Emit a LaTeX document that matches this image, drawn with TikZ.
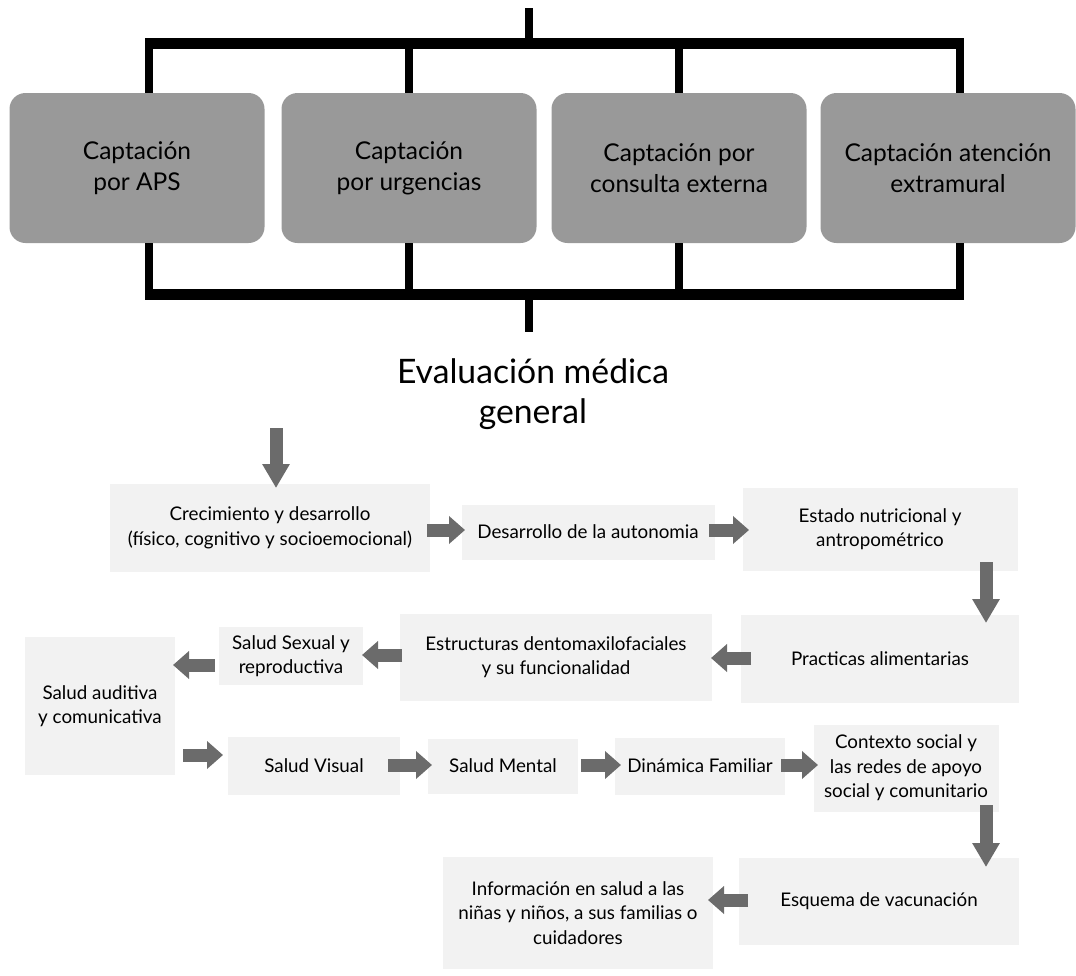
\documentclass[tikz,border=0pt]{standalone}
\usepackage{fontspec}
\setmainfont{Lato}
\usetikzlibrary{arrows.meta}
\begin{document}
\begin{tikzpicture}[x=1pt,y=-1pt,
  hbar/.style={line width=11pt, draw=black},
  vbar/.style={line width=8pt, draw=black},
  capbox/.style={fill=black!40, rounded corners=16pt, minimum width=255pt, minimum height=150pt, align=center, font=\fontsize{24.5}{31}\selectfont, inner sep=0pt},
  stepnode/.style={fill=black!5, align=center, font=\fontsize{18.8}{24.5}\selectfont, inner sep=0pt},
  blk/.style={line width=13pt, draw=black!58, -{Triangle[width=27pt,length=16pt]}},
  blkv/.style={line width=13pt, draw=black!58, -{Triangle[width=26pt,length=24pt]}}
]
\useasboundingbox (0,0) rectangle (1076,975);

% top boxes
\node[capbox] (b1) at (137,168) {Captación\\por APS};
\node[capbox] (b2) at (409,168) {Captación\\por urgencias};
\node[capbox] (b3) at (679,168) {Captación por\\consulta externa};
\node[capbox] (b4) at (948,168) {Captación atención\\extramural};

% bracket coordinates
\coordinate (tin) at (529,8);
\coordinate (t1) at (149,43);
\coordinate (t2) at (409,43);
\coordinate (t3) at (679,43);
\coordinate (t4) at (960,43);
\coordinate (tl) at (145,43);
\coordinate (tr) at (964,43);
\coordinate (u1) at (149,294);
\coordinate (u2) at (409,294);
\coordinate (u3) at (679,294);
\coordinate (u4) at (960,294);
\coordinate (ul) at (145,294);
\coordinate (ur) at (964,294);
\coordinate (bout) at (529,332);

\draw[vbar] (tin) -- (tin |- t1);
\draw[hbar] (tl) -- (tr);
\draw[vbar] (t1) -- (t1 |- b1.north);
\draw[vbar] (t2) -- (t2 |- b2.north);
\draw[vbar] (t3) -- (t3 |- b3.north);
\draw[vbar] (t4) -- (t4 |- b4.north);
\draw[vbar] (u1 |- b1.south) -- (u1);
\draw[vbar] (u2 |- b2.south) -- (u2);
\draw[vbar] (u3 |- b3.south) -- (u3);
\draw[vbar] (u4 |- b4.south) -- (u4);
\draw[hbar] (ul) -- (ur);
\draw[vbar] (bout |- u1) -- (bout);

% title
\node[font=\fontsize{33.7}{40}\selectfont, align=center] (title) at (533,394) {Evaluación médica\\general};

% steps
\node[stepnode, minimum width=320pt, minimum height=88pt] (crec) at (270,528) {Crecimiento y desarrollo\\(físico, cognitivo y socioemocional)};
\node[stepnode, minimum width=253pt, minimum height=55pt] (desa) at (588,532) {Desarrollo de la autonomia};
\node[stepnode, minimum width=275pt, minimum height=83pt] (esta) at (880,529) {Estado nutricional y\\antropométrico};
\node[stepnode, minimum width=278pt, minimum height=88pt] (prac) at (880,659) {Practicas alimentarias};
\node[stepnode, minimum width=312pt, minimum height=87pt] (estr) at (556,657) {Estructuras dentomaxilofaciales\\y su funcionalidad};
\node[stepnode, minimum width=144pt, minimum height=58pt] (sexu) at (291,656) {Salud Sexual y\\reproductiva};
\node[stepnode, minimum width=150pt, minimum height=138pt] (audi) at (100,706) {Salud auditiva\\y comunicativa};
\node[stepnode, minimum width=172pt, minimum height=58pt] (visu) at (314,766) {Salud Visual};
\node[stepnode, minimum width=150pt, minimum height=55pt] (ment) at (503,766) {Salud Mental};
\node[stepnode, minimum width=170pt, minimum height=57pt] (dina) at (700,766) {Dinámica Familiar};
\node[stepnode, minimum width=185pt, minimum height=87pt] (cont) at (906,768) {Contexto social y\\las redes de apoyo\\social y comunitario};
\node[stepnode, minimum width=280pt, minimum height=87pt] (esqu) at (879,901) {Esquema de vacunación};
\node[stepnode, minimum width=270pt, minimum height=112pt] (info) at (578,913) {Información en salud a las\\niñas y niños, a sus familias o\\cuidadores};

% block arrows
\coordinate (a0s) at (276,428);  \coordinate (a0e) at (276,488);
\coordinate (a1s) at (427,530);  \coordinate (a1e) at (465,530);
\coordinate (a2s) at (709,530);  \coordinate (a2e) at (749,530);
\coordinate (a3s) at (986,562);  \coordinate (a3e) at (986,623);
\coordinate (a4s) at (751,658);  \coordinate (a4e) at (711,658);
\coordinate (a5s) at (402,655);  \coordinate (a5e) at (362,655);
\coordinate (a6s) at (215,665);  \coordinate (a6e) at (173,665);
\coordinate (a7s) at (183,755);  \coordinate (a7e) at (223,755);
\coordinate (a8s) at (388,765);  \coordinate (a8e) at (432,765);
\coordinate (a9s) at (581,765);  \coordinate (a9e) at (621,765);
\coordinate (a10s) at (781,765); \coordinate (a10e) at (818,765);
\coordinate (a11s) at (986,805); \coordinate (a11e) at (986,867);
\coordinate (a12s) at (748,900); \coordinate (a12e) at (708,900);

\draw[blkv] (a0s) -- (a0e);
\draw[blk] (a1s) -- (a1e);
\draw[blk] (a2s) -- (a2e);
\draw[blkv] (a3s) -- (a3e);
\draw[blk] (a4s) -- (a4e);
\draw[blk] (a5s) -- (a5e);
\draw[blk] (a6s) -- (a6e);
\draw[blk] (a7s) -- (a7e);
\draw[blk] (a8s) -- (a8e);
\draw[blk] (a9s) -- (a9e);
\draw[blk] (a10s) -- (a10e);
\draw[blkv] (a11s) -- (a11e);
\draw[blk] (a12s) -- (a12e);
\end{tikzpicture}
\end{document}
